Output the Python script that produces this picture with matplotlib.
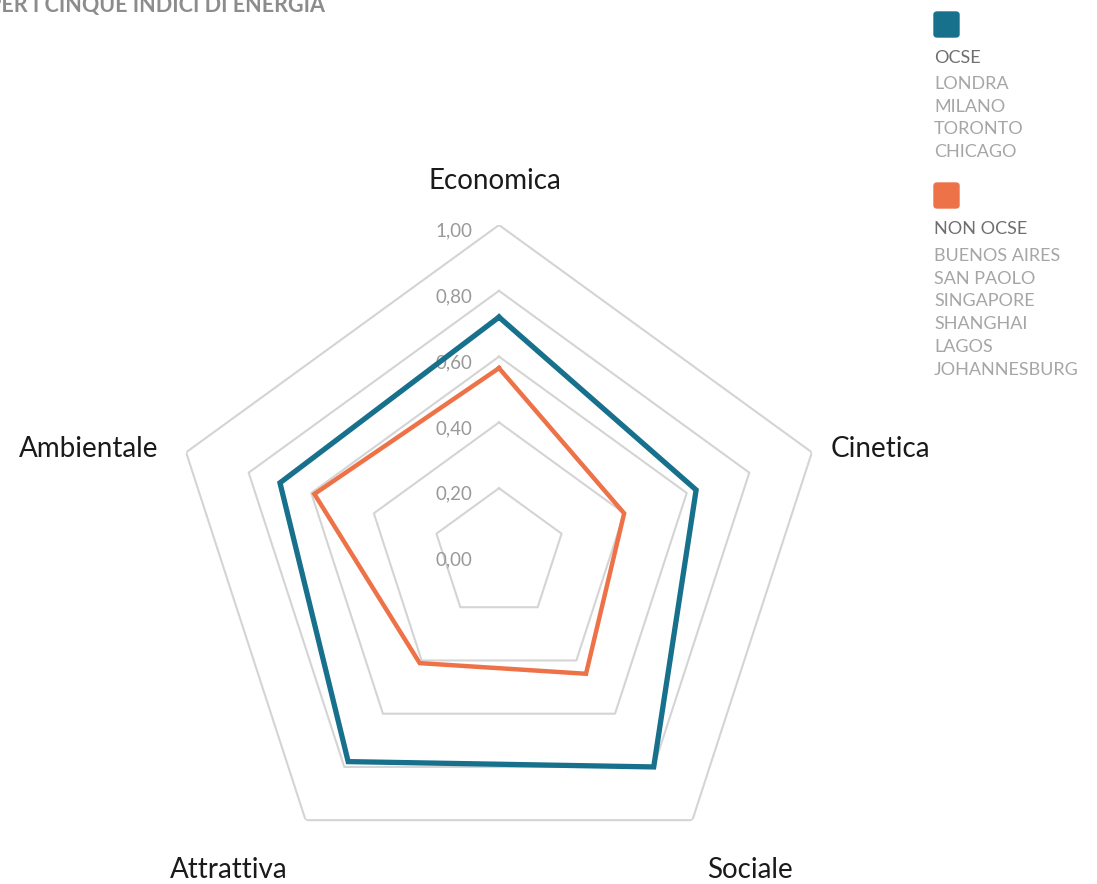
import numpy as np
import matplotlib.pyplot as plt
from matplotlib.patches import FancyBboxPatch

categories = ['Economica', 'Cinetica', 'Sociale', 'Attrattiva', 'Ambientale']
ocse = [0.72, 0.63, 0.80, 0.78, 0.70]
non_ocse = [0.565, 0.40, 0.45, 0.41, 0.59]
rings = [0.2, 0.4, 0.6, 0.8, 1.0]
tick_labels = ['0,00', '0,20', '0,40', '0,60', '0,80', '1,00']
ocse_cities = ['LONDRA', 'MILANO', 'TORONTO', 'CHICAGO']
non_ocse_cities = ['BUENOS AIRES', 'SAN PAOLO', 'SINGAPORE', 'SHANGHAI', 'LAGOS', 'JOHANNESBURG']

teal = '#17708c'
orange = '#ee7248'
grid_c = '#d4d4d4'

W, H = 1097, 884
fig = plt.figure(figsize=(W / 100, H / 100), dpi=100)
plt.rcParams['font.family'] = ['Lato', 'DejaVu Sans']

# polar axes: centre at (499, 554) px, radius 329 px
cx, cy, R = 499, 554, 329
ax = fig.add_axes([(cx - R) / W, (H - cy - R) / H, 2 * R / W, 2 * R / H], projection='polar')
ax.set_theta_offset(np.pi / 2)
ax.set_theta_direction(-1)
ax.set_ylim(0, 1)
ax.grid(False)
ax.set_xticks([])
ax.set_yticks([])
ax.spines['polar'].set_visible(False)
ax.patch.set_alpha(0)

n = len(categories)
theta = np.linspace(0, 2 * np.pi, n, endpoint=False)
theta_c = np.append(theta, theta[0])

for r in rings:
    ax.plot(theta_c, [r] * (n + 1), color=grid_c, lw=1.5, zorder=1)

for i, lab in enumerate(tick_labels):
    r = i * 0.2
    ax.annotate(lab, xy=(0, r), xytext=(-27, -6), textcoords='offset pixels',
                ha='right', va='center', fontsize=13.5, color='#999999', zorder=2)

ax.plot(theta_c, ocse + ocse[:1], color=teal, lw=3.8, zorder=3, solid_joinstyle='miter')
ax.plot(theta_c, non_ocse + non_ocse[:1], color=orange, lw=3.2, zorder=3, solid_joinstyle='miter')

# category labels (pixel positions)
label_pos = [(495, 181), (880, 449), (750, 870), (229, 870), (89, 449)]
for cat, (x, y) in zip(categories, label_pos):
    fig.text(x / W, 1 - y / H, cat, ha='center', va='center', fontsize=20, color='#1a1a1a')

# title cut at the top
fig.text(325 / W, 1 - 12 / H, 'PER I CINQUE INDICI DI ENERGIA', ha='right', va='baseline',
         fontsize=15.5, fontweight='bold', color='#8c8c8c')

# legend
def swatch(x, y, c):
    fig.patches.append(FancyBboxPatch((x / W, 1 - (y + 25) / H), 25 / W, 25 / H,
                                      boxstyle='round,pad=0,rounding_size=0.003',
                                      transform=fig.transFigure, color=c))

swatch(934, 12, teal)
fig.text(934 / W, 1 - 58 / H, 'OCSE', fontsize=13, color='#6e6e6e', va='center')
for k, c in enumerate(ocse_cities):
    fig.text(934 / W, 1 - (84 + 22.7 * k) / H, c, fontsize=13, color='#a6a6a6', va='center')

swatch(934, 183, orange)
fig.text(934 / W, 1 - 229 / H, 'NON OCSE', fontsize=13, color='#6e6e6e', va='center')
for k, c in enumerate(non_ocse_cities):
    fig.text(934 / W, 1 - (256 + 22.7 * k) / H, c, fontsize=13, color='#a6a6a6', va='center')

fig.savefig('out.png', dpi=100)
